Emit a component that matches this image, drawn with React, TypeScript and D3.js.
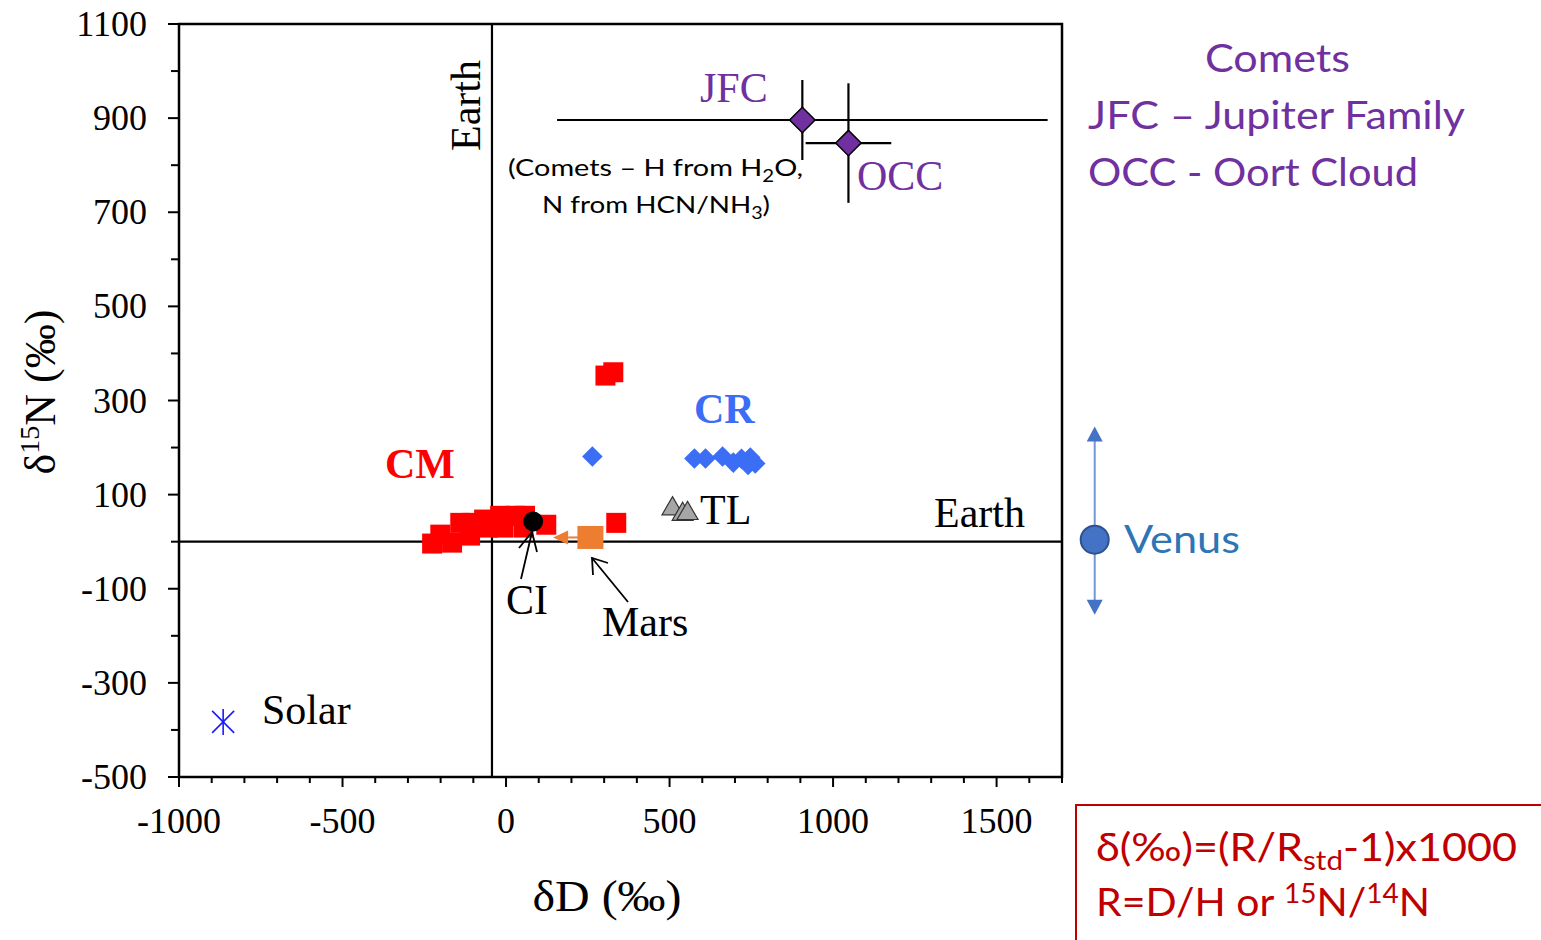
import React from "react";
import * as d3 from "d3";

// ---- data (δD ‰, δ15N ‰) ----
const cmPoints: [number, number][] = [
  [-226, -4], [-165, -2], [-201, 15], [-140, 40], [-110, 13], [-103, 40],
  [-67, 47], [-55, 30], [-18, 55], [-9, 30], [28, 55], [53, 30], [58, 55],
  [123, 36], [337, 40], [304, 353], [328, 360],
];
const crPoints: [number, number][] = [
  [264, 181], [576, 177], [610, 177], [662, 181], [695, 168], [720, 176],
  [747, 179], [762, 166], [740, 163],
];
const tlPoints: [number, number][] = [[509, 70], [540, 58], [555, 60]];
const ciPoint: [number, number] = [83, 43];
const marsPoint: [number, number] = [258, 9];
const marsLowD = 144;
const solarPoint: [number, number] = [-865, -383];
const cometNames = ["JFC", "OCC"];
const cometD = [906, 1047];
const cometN = [896, 847];
const cometDErr = [750, 131];
const cometNErr = [85, 127];
const venusD = 1800;
const venusN = 0;
const venusNHigh = 245;
const venusNLow = -155;
const earthD = -43;
const earthN = 0;
const xTickLabels = [-1000, -500, 0, 500, 1000, 1500];
const yTickLabels = [-500, -300, -100, 100, 300, 500, 700, 900, 1100];

const W = 1541;
const H = 940;
const serif = "'Liberation Serif', 'Times New Roman', serif";
const sans = "Lato, 'Open Sans', sans-serif";
const purple = "#7030A0";

const x = d3.scaleLinear().domain([-1000, 1700]).range([179, 1062]);
const y = d3.scaleLinear().domain([-500, 1100]).range([777, 24]);

const squarePath = (s: number) => d3.symbol(d3.symbolSquare, s * s)()!;
const trianglePath = d3.symbol(d3.symbolTriangle, 190)()!;

export default function App() {
  const xTicks = d3.range(-1000, 1701, 100);
  const yTicks = d3.range(-500, 1101, 100);
  const [x0, x1] = x.range();
  const [y0, y1] = y.range();

  return (
    <svg
      width={W}
      height={H}
      style={{ position: "absolute", left: 0, top: 0, background: "#fff" }}
    >
      {/* frame */}
      <rect x={x0} y={y1} width={x1 - x0} height={y0 - y1} fill="none" stroke="#000" strokeWidth={2.5} />

      {/* x ticks */}
      {xTicks.map((t) => {
        const major = (t + 1000) % 500 === 0;
        return (
          <line key={"xt" + t} x1={x(t)} x2={x(t)} y1={y0} y2={y0 + (major ? 10 : 6)} stroke="#000" strokeWidth={2} />
        );
      })}
      {xTickLabels.map((t) => (
        <text key={"xl" + t} x={x(t)} y={833} fontFamily={serif} fontSize={36} textAnchor="middle" fill="#000">
          {t}
        </text>
      ))}

      {/* y ticks */}
      {yTicks.map((t) => {
        const major = (t + 500) % 200 === 0;
        return (
          <line key={"yt" + t} x1={x0 - (major ? 11 : 8)} x2={x0} y1={y(t)} y2={y(t)} stroke="#000" strokeWidth={2} />
        );
      })}
      {yTickLabels.map((t) => (
        <text key={"yl" + t} x={147} y={y(t) + 12} fontFamily={serif} fontSize={36} textAnchor="end" fill="#000">
          {t}
        </text>
      ))}

      {/* axis titles */}
      <text x={607} y={911} fontFamily={serif} fontSize={44} textAnchor="middle" textLength={149} lengthAdjust="spacingAndGlyphs">
        δD (‰)
      </text>
      <text transform="translate(55,392) rotate(-90)" fontFamily={serif} fontSize={44} textAnchor="middle">
        δ<tspan dy={-16} fontSize={28}>15</tspan>
        <tspan dy={16}>N (‰)</tspan>
      </text>

      {/* Earth reference lines */}
      <line x1={x0} x2={x1} y1={y(earthN)} y2={y(earthN)} stroke="#000" strokeWidth={2.2} />
      <line x1={x(earthD)} x2={x(earthD)} y1={y1} y2={y0} stroke="#000" strokeWidth={2.2} />
      <text x={934} y={527} fontFamily={serif} fontSize={42}>Earth</text>
      <text transform="translate(480,151) rotate(-90)" fontFamily={serif} fontSize={42}>Earth</text>

      {/* comet error bars */}
      {cometNames.map((c, i) => (
        <g key={"eb" + c} stroke="#000" strokeWidth={2.2}>
          <line x1={x(cometD[i] - cometDErr[i])} x2={x(cometD[i] + cometDErr[i])} y1={y(cometN[i])} y2={y(cometN[i])} />
          <line x1={x(cometD[i])} x2={x(cometD[i])} y1={y(cometN[i] + cometNErr[i])} y2={y(cometN[i] - cometNErr[i])} />
        </g>
      ))}
      {cometNames.map((c, i) => (
        <path
          key={"cm" + c}
          d={squarePath(18)}
          transform={`translate(${x(cometD[i])},${y(cometN[i])}) rotate(45)`}
          fill={purple}
          stroke="#000"
          strokeWidth={1.5}
        />
      ))}

      {/* CM carbonaceous chondrites */}
      {cmPoints.map(([d, n], i) => (
        <path key={"cmp" + i} d={squarePath(20)} transform={`translate(${x(d)},${y(n)})`} fill="#FF0000" />
      ))}

      {/* CR chondrites */}
      {crPoints.map(([d, n], i) => (
        <path key={"cr" + i} d={squarePath(14.5)} transform={`translate(${x(d)},${y(n)}) rotate(45)`} fill="#3B6EF5" />
      ))}

      {/* TL */}
      {tlPoints.map(([d, n], i) => (
        <path key={"tl" + i} d={trianglePath} transform={`translate(${x(d)},${y(n)})`} fill="#A6A6A6" stroke="#333" strokeWidth={1.2} />
      ))}

      {/* Mars */}
      <line x1={x(marsLowD) + 15} x2={x(marsPoint[0])} y1={y(marsPoint[1])} y2={y(marsPoint[1])} stroke="#ED7D31" strokeWidth={2} />
      <path
        d={`M${x(marsLowD)},${y(marsPoint[1])} L${x(marsLowD) + 15},${y(marsPoint[1]) - 7} L${x(marsLowD) + 15},${y(marsPoint[1]) + 7} Z`}
        fill="#ED7D31"
      />
      <rect x={x(marsPoint[0]) - 13} y={y(marsPoint[1]) - 11.5} width={26} height={23} fill="#ED7D31" />

      {/* CI */}
      <circle cx={x(ciPoint[0])} cy={y(ciPoint[1])} r={10} fill="#000" />

      {/* Solar */}
      <g transform={`translate(${x(solarPoint[0])},${y(solarPoint[1])})`} stroke="#1a1aff" strokeWidth={1.6}>
        <line x1={-11} y1={-11} x2={11} y2={11} />
        <line x1={-11} y1={11} x2={11} y2={-11} />
        <line x1={0} y1={-13} x2={0} y2={13} />
      </g>

      {/* Venus */}
      <g>
        <line x1={x(venusD)} x2={x(venusD)} y1={y(venusNHigh) + 12} y2={y(venusNLow) - 12} stroke="#7097DA" strokeWidth={2} />
        <path d={`M${x(venusD)},${y(venusNHigh)} l-8,15 l16,0 Z`} fill="#4472C4" />
        <path d={`M${x(venusD)},${y(venusNLow)} l-8,-15 l16,0 Z`} fill="#4472C4" />
        <circle cx={x(venusD)} cy={y(venusN) - 2} r={14} fill="#4472C4" stroke="#2F528F" strokeWidth={2} />
      </g>
      <text x={1124} y={553} fontFamily={sans} fontSize={39} fill="#2E75B6" textLength={116} lengthAdjust="spacingAndGlyphs">
        Venus
      </text>

      {/* label arrows */}
      <g stroke="#000" strokeWidth={1.8} fill="none">
        <line x1={521} y1={579} x2={532} y2={532} />
        <polyline points="519,548 532,532 537,552" />
        <line x1={628} y1={602} x2={592} y2={558} />
        <polyline points="593,575 592,558 608,563" />
      </g>

      {/* point labels */}
      <text x={385} y={478} fontFamily={serif} fontSize={42} fontWeight="bold" fill="#FF0000">CM</text>
      <text x={694} y={423} fontFamily={serif} fontSize={42} fontWeight="bold" fill="#3B6EF5">CR</text>
      <text x={700} y={524} fontFamily={serif} fontSize={42}>TL</text>
      <text x={506} y={614} fontFamily={serif} fontSize={42}>CI</text>
      <text x={602} y={636} fontFamily={serif} fontSize={42}>Mars</text>
      <text x={262} y={724} fontFamily={serif} fontSize={42}>Solar</text>
      <text x={700} y={102} fontFamily={serif} fontSize={42} fill={purple}>JFC</text>
      <text x={857} y={190} fontFamily={serif} fontSize={42} fill={purple}>OCC</text>

      {/* comet note */}
      <text x={508} y={176} fontFamily={sans} fontSize={24} textLength={295} lengthAdjust="spacingAndGlyphs">
        (Comets – H from H<tspan dy={6} fontSize={17}>2</tspan>
        <tspan dy={-6}>O,</tspan>
      </text>
      <text x={542} y={213} fontFamily={sans} fontSize={24} textLength={228} lengthAdjust="spacingAndGlyphs">
        N from HCN/NH<tspan dy={6} fontSize={17}>3</tspan>
        <tspan dy={-6}>)</tspan>
      </text>

      {/* comet legend */}
      <text x={1205} y={72} fontFamily={sans} fontSize={38} fill={purple} textLength={145} lengthAdjust="spacingAndGlyphs">
        Comets
      </text>
      <text x={1088} y={129} fontFamily={sans} fontSize={38} fill={purple} textLength={377} lengthAdjust="spacingAndGlyphs">
        JFC – Jupiter Family
      </text>
      <text x={1088} y={186} fontFamily={sans} fontSize={38} fill={purple} textLength={330} lengthAdjust="spacingAndGlyphs">
        OCC - Oort Cloud
      </text>

      {/* definition box */}
      <rect x={1076} y={805} width={480} height={150} fill="none" stroke="#C00000" strokeWidth={2} />
      <text x={1096} y={861} fontFamily={sans} fontSize={38} fill="#C00000" textLength={421} lengthAdjust="spacingAndGlyphs">
        δ(‰)=(R/R<tspan dy={9} fontSize={26}>std</tspan>
        <tspan dy={-9}>-1)x1000</tspan>
      </text>
      <text x={1096} y={916} fontFamily={sans} fontSize={38} fill="#C00000" textLength={334} lengthAdjust="spacingAndGlyphs">
        R=D/H or <tspan dy={-13} fontSize={26}>15</tspan>
        <tspan dy={13}>N/</tspan>
        <tspan dy={-13} fontSize={26}>14</tspan>
        <tspan dy={13}>N</tspan>
      </text>
    </svg>
  );
}
